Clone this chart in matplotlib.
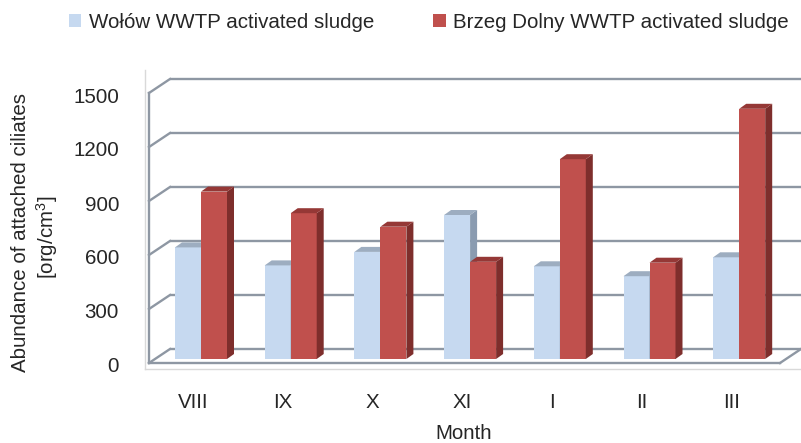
import matplotlib
matplotlib.use("Agg")
import matplotlib.pyplot as plt
from matplotlib.patches import Polygon, Patch
from matplotlib.transforms import offset_copy, blended_transform_factory

# ---- data ----
months = ["VIII", "IX", "X", "XI", "I", "II", "III"]
wolow = [620, 520, 595, 800, 515, 460, 565]
brzeg = [930, 810, 735, 540, 1110, 535, 1390]
series_labels = ["Wołów WWTP activated sludge", "Brzeg Dolny WWTP activated sludge"]
yticks = [0, 300, 600, 900, 1200, 1500]

# ---- style ----
plt.rcParams['font.family'] = ['Liberation Sans', 'DejaVu Sans']
plt.rcParams['mathtext.fontset'] = 'custom'
plt.rcParams['mathtext.rm'] = 'Liberation Sans'
plt.rcParams['mathtext.it'] = 'Liberation Sans'
FS = 14.8
TXT = '#262626'
blue_face, blue_side, blue_top = '#c6d9f0', '#8a9bb0', '#9dadc0'
red_face, red_side, red_top = '#c0504d', '#7e2e2c', '#953836'
grid_c = '#8e97a3'

W, H = 801, 443
fig = plt.figure(figsize=(W / 100, H / 100), dpi=100)
ax_l, ax_r, ax_b, ax_t = 145, 801, 369, 70   # pixel box of plot area
ax = fig.add_axes([ax_l / W, (H - ax_b) / H, (ax_r - ax_l) / W, (ax_b - ax_t) / H])

PX = 89.7      # px per category
PY = 0.18      # px per value unit
x0 = 193       # pixel of category 0 on front plane
y0 = 363       # pixel of value 0 on front plane
ax.set_xlim((ax_l - x0) / PX, (ax_r - x0) / PX)
ax.set_ylim(-(ax_b - y0) / PY, (y0 - ax_t) / PY)

def dx(p):
    return p / PX

def dy(p):
    return p / PY

# 3-D geometry (oblique projection)
WX, WY = dx(21), dy(14)      # back wall offset
BX, BY = dx(8), dy(4)        # bar depth position
DX, DY = dx(7), dy(5)        # bar thickness
xF = dx(149 - x0)            # left edge of floor (front)
xR = dx(780 - x0)            # right edge of floor (front)
xEnd = ax.get_xlim()[1] + 1

lw = 1.7
# back-wall gridlines and left-wall diagonals
for v in yticks:
    ax.plot([xF + WX, xEnd], [v + WY, v + WY], color=grid_c, lw=lw, zorder=1,
            solid_capstyle='butt')
    ax.plot([xF, xF + WX], [v, v + WY], color=grid_c, lw=lw, zorder=1)
# left front edge
ax.plot([xF, xF], [0, yticks[-1]], color=grid_c, lw=lw, zorder=1)
# floor front edge and right diagonal
ax.plot([xF, xR], [0, 0], color=grid_c, lw=lw, zorder=1)
ax.plot([xR, xR + WX], [0, WY], color=grid_c, lw=lw, zorder=1)

# bars
bw = dx(26)
xs = list(range(len(months)))
for vals, off, cf, cs, ct in [(wolow, -1, blue_face, blue_side, blue_top),
                              (brzeg, 0, red_face, red_side, red_top)]:
    lefts = [x + BX + off * bw for x in xs]
    ax.bar(lefts, vals, width=bw, bottom=BY, align='edge', color=cf,
           linewidth=0, zorder=3)
    for xl, v in zip(lefts, vals):
        xr = xl + bw
        top = BY + v
        side = Polygon([(xr, BY), (xr, top), (xr + DX, top + DY), (xr + DX, BY + DY)],
                       closed=True, facecolor=cs, edgecolor='none', zorder=3)
        cap = Polygon([(xl, top), (xr, top), (xr + DX, top + DY), (xl + DX, top + DY)],
                      closed=True, facecolor=ct, edgecolor='none', zorder=3)
        ax.add_patch(side)
        ax.add_patch(cap)

# plot-area border (light)
for s in ['top', 'right']:
    ax.spines[s].set_visible(False)
for s in ['left', 'bottom']:
    ax.spines[s].set_color('#d9d9d9')
    ax.spines[s].set_linewidth(1.0)
ax.set_facecolor('white')

# x tick labels
ax.set_xticks(xs)
ax.set_xticklabels(months, fontsize=FS, color=TXT)
ax.tick_params(axis='x', length=0, pad=17)
# y tick labels (drawn on the front plane)
ax.set_yticks([])
ytr = offset_copy(blended_transform_factory(ax.transAxes, ax.transData), fig,
                  x=-26, y=-4, units='dots')
for v in yticks:
    ax.text(0, v, str(v), transform=ytr, ha='right', va='center', fontsize=FS, color=TXT)

# axis titles
fig.text(21 / W, 1 - 232 / H, 'Abundance of attached ciliates', rotation=90,
         ha='center', va='center', fontsize=FS, color=TXT)
fig.text(47 / W, 1 - 237 / H, '[org/cm$^{3}$]', rotation=90,
         ha='center', va='center', fontsize=FS, color=TXT)
fig.text(464 / W, 4 / H, 'Month', ha='center', va='baseline', fontsize=FS, color=TXT)

# legend
handles = [Patch(facecolor=blue_face, edgecolor='none'),
           Patch(facecolor=red_face, edgecolor='none')]
leg = fig.legend(handles, series_labels, ncol=2, loc='center left',
                 bbox_to_anchor=(69 / W, 1 - 22 / H), frameon=False,
                 fontsize=FS, handlelength=0.6, handleheight=0.6,
                 handletextpad=0.35, columnspacing=2.9, borderpad=0,
                 borderaxespad=0)
for t in leg.get_texts():
    t.set_color(TXT)

fig.savefig('out.png', dpi=100)
